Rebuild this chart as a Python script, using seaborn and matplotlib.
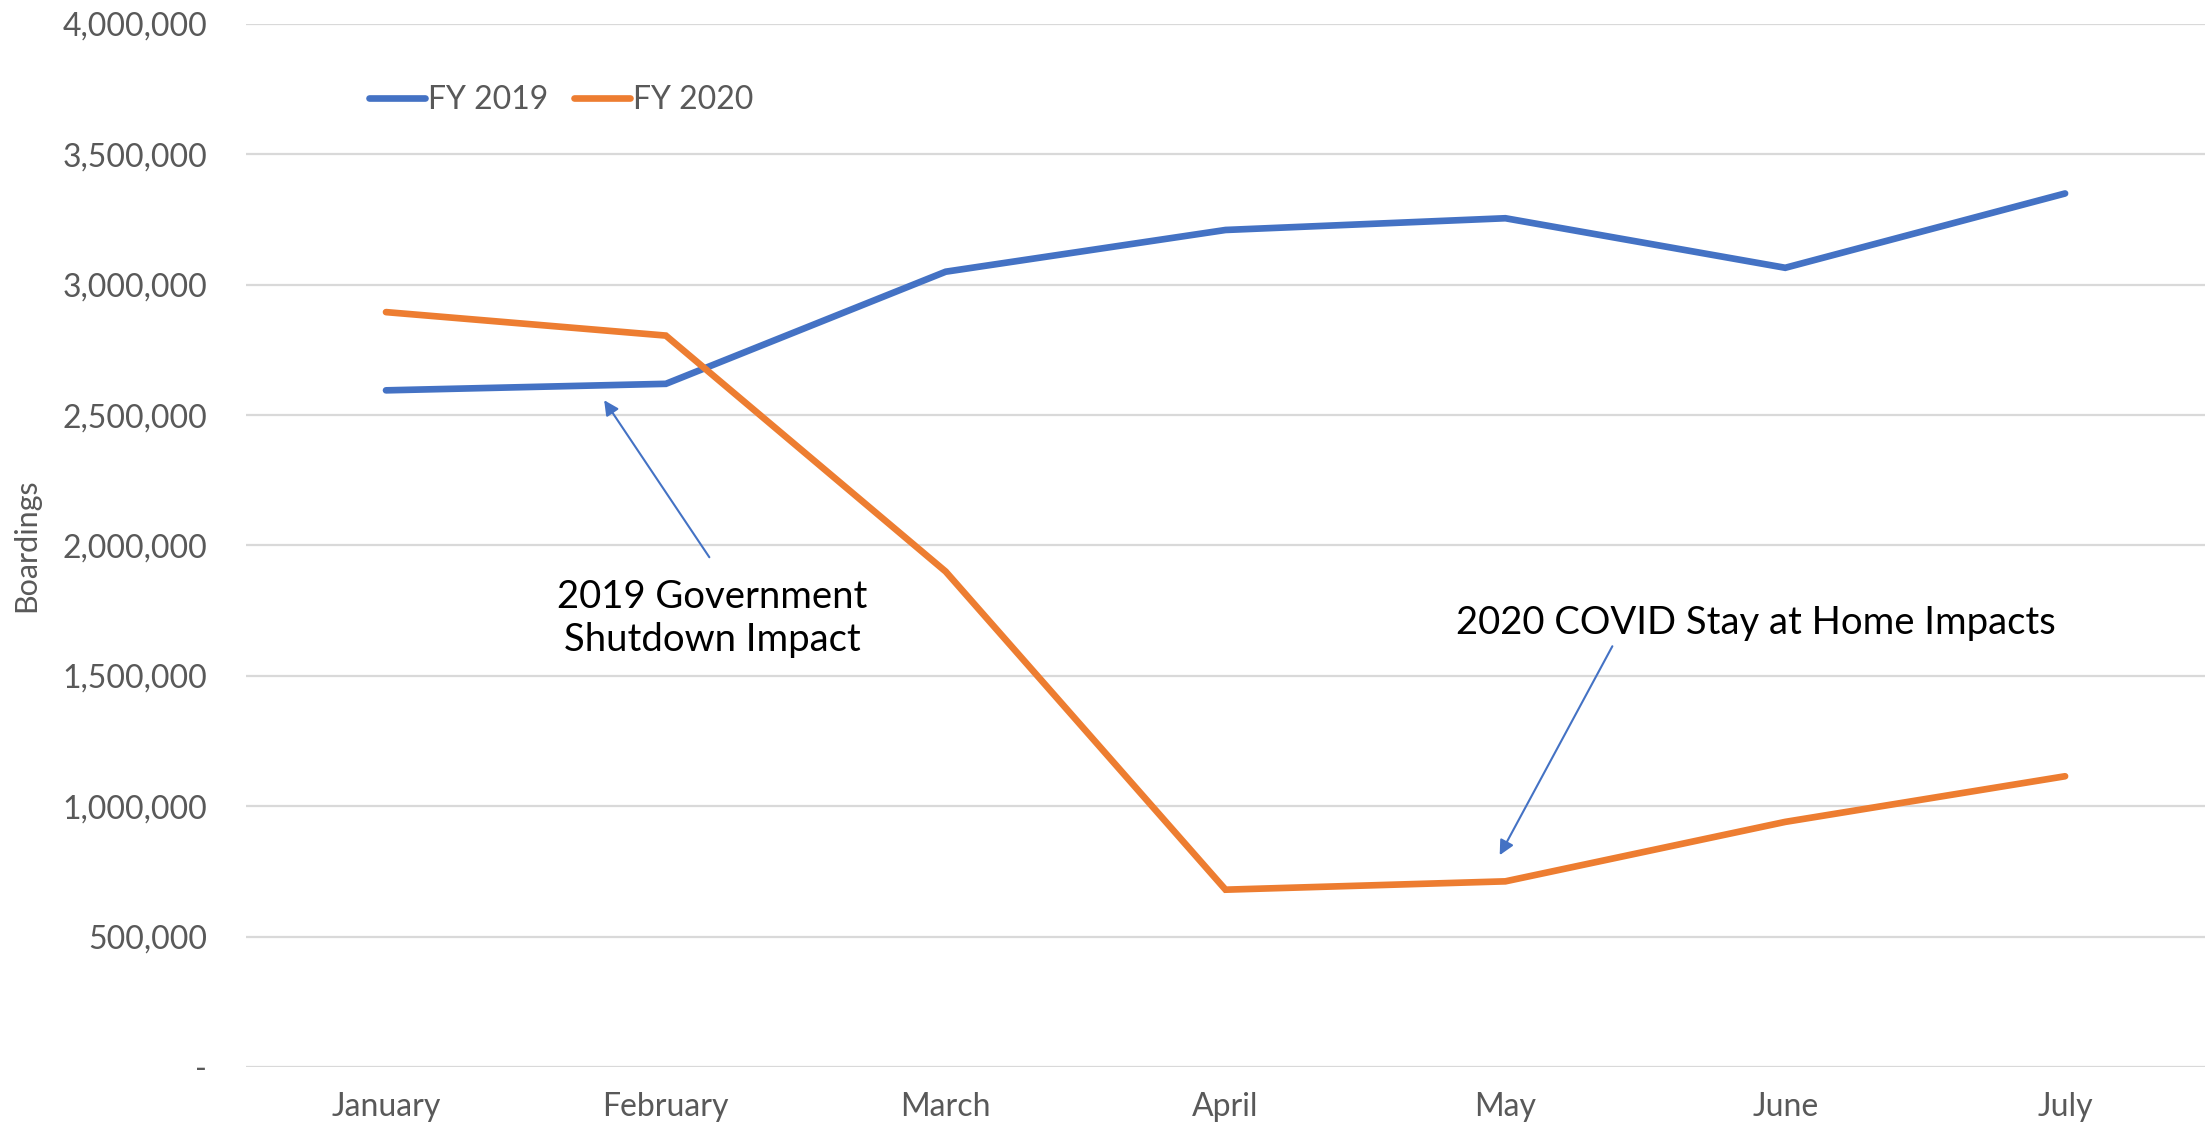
import pandas as pd
import matplotlib.pyplot as plt
import seaborn as sns

months = ["January", "February", "March", "April", "May", "June", "July"]
fy2019 = [2595000, 2620000, 3050000, 3210000, 3255000, 3065000, 3350000]
fy2020 = [2895000, 2805000, 1900000, 680000, 712000, 940000, 1115000]
series_names = ["FY 2019", "FY 2020"]
yticks = [0, 500000, 1000000, 1500000, 2000000, 2500000, 3000000, 3500000, 4000000]

df = pd.DataFrame({
    "month": months * 2,
    "boardings": fy2019 + fy2020,
    "series": [series_names[0]] * len(months) + [series_names[1]] * len(months),
})

sns.set_style("white")
plt.rcParams["font.family"] = ["Lato", "DejaVu Sans"]

fig = plt.figure(figsize=(22.05, 11.26), dpi=100)
ax = fig.add_axes([0.1116, 0.0524, 0.8884, 0.9263])

sns.lineplot(data=df, x="month", y="boardings", hue="series", sort=False,
             palette=["#4472C4", "#ED7D31"], linewidth=4.8, ax=ax,
             solid_capstyle="round", solid_joinstyle="miter")

ax.set_xlim(-0.5, 6.5)
ax.set_ylim(0, 4000000)
ax.set_yticks(yticks)
ax.set_yticklabels(["-" if v == 0 else f"{v:,}" for v in yticks])
ax.yaxis.grid(True, color="#D9D9D9", linewidth=1.6)
ax.set_axisbelow(True)
for s in ax.spines.values():
    s.set_visible(False)
ax.tick_params(axis="both", length=0, labelsize=23, labelcolor="#595959")
ax.tick_params(axis="y", pad=28)
ax.tick_params(axis="x", pad=18)
ax.set_xlabel("")
ax.set_ylabel("Boardings", fontsize=22, color="#595959", labelpad=16)

leg = ax.legend(loc="center left", bbox_to_anchor=(0.048, 0.927), ncol=2,
                frameon=False, fontsize=23, handlelength=1.75,
                handletextpad=0.1, columnspacing=0.8)
for t in leg.get_texts():
    t.set_color("#595959")

arrow = dict(arrowstyle="-|>", color="#4472C4", lw=1.5, mutation_scale=22)
ax.annotate("", xy=(0.774, 2566000), xytext=(1.161, 1946000), arrowprops=arrow)
ax.text(1.166, 1720000, "2019 Government\nShutdown Impact", ha="center", va="center",
        fontsize=27.5, color="black", linespacing=1.25)
ax.annotate("", xy=(3.975, 803000), xytext=(4.387, 1623000), arrowprops=arrow)
ax.text(4.894, 1703000, "2020 COVID Stay at Home Impacts", ha="center", va="center",
        fontsize=27.5, color="black")

plt.savefig("out.png", dpi=100)
